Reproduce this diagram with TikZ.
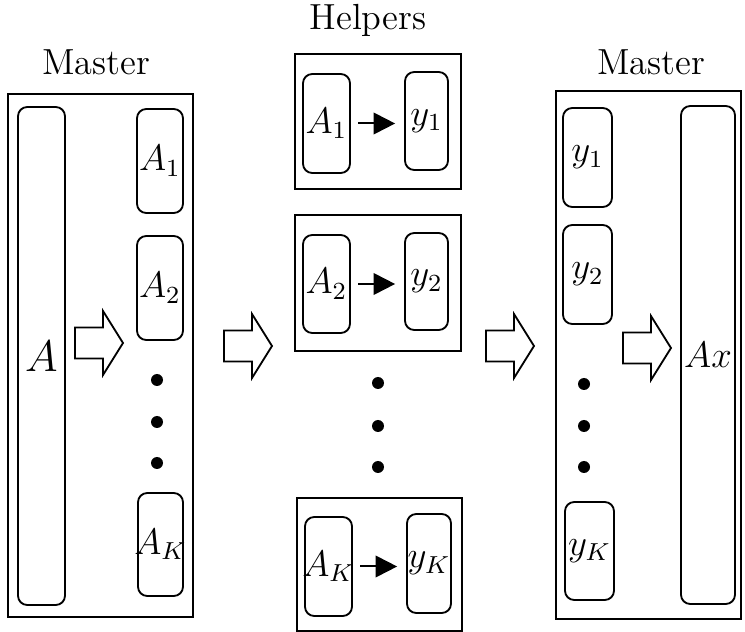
\documentclass[tikz,border=0pt]{standalone}
\usetikzlibrary{arrows.meta}
\newdimen\pxu
\pxu=0.325pt
\begin{document}
\begin{tikzpicture}[x=0.325pt, y=-0.325pt,
  every node/.style={inner sep=0pt, outer sep=0pt},
  frame/.style 2 args={draw, line width=0.6pt, minimum width=#1\pxu, minimum height=#2\pxu},
  rbox/.style 2 args={draw, line width=0.6pt, rounded corners=3pt, minimum width=#1\pxu, minimum height=#2\pxu,
    font=\fontsize{11.7}{14}\selectfont},
  dotnode/.style={circle, fill=black, minimum size=12\pxu},
  title/.style={font=\fontsize{11.8}{14}\selectfont},
  fatarr/.style={draw, line width=0.6pt, line join=miter},
  flow/.style={line width=0.65pt, -{Triangle[length=7pt,width=7pt]}, shorten <=2.6pt, shorten >=3.2pt}
]
\useasboundingbox (0,0) rectangle (745,632);

% a hollow block arrow whose tail centre is at (#1,#2)
\newcommand\fatarrow[2]{%
  \draw[fatarr, shift={(#1,#2)}] (0,-15.5) -- (28,-15.5) -- (28,-32) -- (48,0)
    -- (28,32) -- (28,15.5) -- (0,15.5) -- cycle;}

% ---------- left: master ----------
\node[title] (lmaster) at (96,62) {Master};
\node[frame={185}{523}] (lframe) at (100.5,355.5) {};
\node[rbox={47}{498}, font=\fontsize{14.8}{17}\selectfont] (bigA) at (41.5,356) {\makebox[0pt]{$A$}};
\node[rbox={46}{104}] (la1) at (160,161) {\makebox[0pt]{$A_1$}};
\node[rbox={46}{104}] (la2) at (160,288) {\makebox[0pt]{$A_2$}};
\node[dotnode] (ld1) at (157,380) {};
\node[dotnode] (ld2) at (157,422) {};
\node[dotnode] (ld3) at (157,463) {};
\node[rbox={45}{103}] (lak) at (160.5,544.5) {\makebox[0pt]{$A_K$}};
\fatarrow{75}{343}

% ---------- arrow to helpers ----------
\fatarrow{224}{346}

% ---------- middle: helpers ----------
\node[title] (helpers) at (368,20) {Helpers};

\node[frame={166}{135}] (h1) at (378,121.5) {};
\node[rbox={47}{99}] (h1a) at (326.5,123.5) {\makebox[0pt]{$A_1$}};
\node[rbox={43}{98}] (h1y) at (426.5,121) {\makebox[0pt]{$y_1$}};
\draw[flow] (h1a.east) -- (h1a.east -| h1y.west);

\node[frame={166}{136}] (h2) at (378,283) {};
\node[rbox={47}{98}] (h2a) at (326.5,284) {\makebox[0pt]{$A_2$}};
\node[rbox={43}{97}] (h2y) at (426.5,281.5) {\makebox[0pt]{$y_2$}};
\draw[flow] (h2a.east) -- (h2a.east -| h2y.west);

\node[dotnode] (hd1) at (378,383) {};
\node[dotnode] (hd2) at (378,426) {};
\node[dotnode] (hd3) at (378,467) {};

\node[frame={165}{133}] (hk) at (379.5,564.5) {};
\node[rbox={47}{99}] (hka) at (328.5,566.5) {\makebox[0pt]{$A_K$}};
\node[rbox={44}{99}] (hky) at (429,563.5) {\makebox[0pt]{$y_K$}};
\draw[flow] (hka.east) -- (hka.east -| hky.west);

% ---------- arrow to master ----------
\fatarrow{486}{346}

% ---------- right: master ----------
\node[title] (rmaster) at (651,62) {Master};
\node[frame={185}{528}] (rframe) at (648.5,355) {};
\node[rbox={49}{99}] (ry1) at (587.5,157.5) {\makebox[0pt]{$y_1$}};
\node[rbox={49}{99}] (ry2) at (587.5,274.5) {\makebox[0pt]{$y_2$}};
\node[dotnode] (rd1) at (584,384) {};
\node[dotnode] (rd2) at (584,426) {};
\node[dotnode] (rd3) at (584,467) {};
\node[rbox={49}{98}] (ryk) at (589.5,551) {\makebox[0pt]{$y_K$}};
\node[rbox={54}{498}] (rax) at (708,355) {\makebox[0pt]{$Ax$}};
\fatarrow{623}{348}
\end{tikzpicture}
\end{document}
